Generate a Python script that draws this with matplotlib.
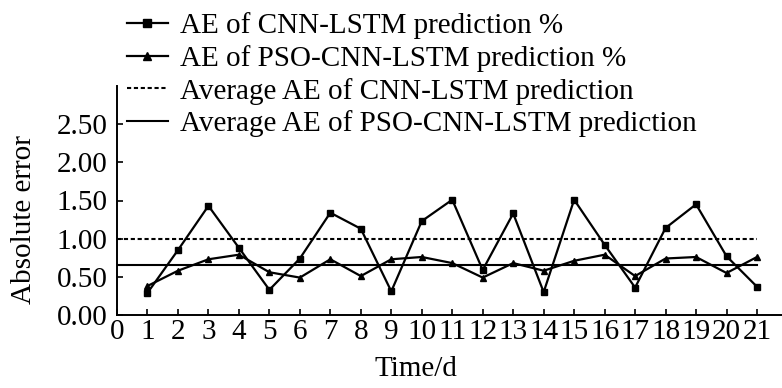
import numpy as np
import matplotlib.pyplot as plt

plt.rcParams['font.family'] = ['Liberation Serif', 'DejaVu Serif']

days = np.arange(1, 22)
ae_cnn = [0.29, 0.85, 1.43, 0.88, 0.33, 0.74, 1.34, 1.13, 0.31, 1.23, 1.51,
          0.59, 1.33, 0.30, 1.51, 0.92, 0.36, 1.14, 1.45, 0.77, 0.37]
ae_pso = [0.38, 0.58, 0.73, 0.79, 0.56, 0.49, 0.73, 0.51, 0.73, 0.76, 0.68,
          0.49, 0.68, 0.58, 0.71, 0.79, 0.51, 0.74, 0.76, 0.55, 0.76]
avg_cnn = 1.00
avg_pso = 0.66

labels = ['AE of CNN-LSTM prediction %',
          'AE of PSO-CNN-LSTM prediction %',
          'Average AE of CNN-LSTM prediction',
          'Average AE of PSO-CNN-LSTM prediction']

fs = 21

fig = plt.figure(figsize=(7.82, 3.88), dpi=100)
ax = fig.add_axes([117/782, 73/388, 665/782, 229/388])

ax.plot(days, ae_cnn, 'k-', marker='s', markersize=4.5, lw=1.6, label=labels[0])
ax.plot(days, ae_pso, 'k-', marker='^', markersize=4.5, lw=1.6, label=labels[1])
ax.plot([0, 21], [avg_cnn, avg_cnn], 'k', ls=(0, (2, 1.3)), lw=1.5, label=labels[2])
ax.plot([0, 21], [avg_pso, avg_pso], 'k-', lw=1.5, label=labels[3])

ax.set_xlim(0, 21.82)
ax.set_ylim(0, 3.0)
ax.set_xticks(range(0, 22))
ax.set_yticks([0, 0.5, 1.0, 1.5, 2.0, 2.5])
ax.set_yticklabels(['%.2f' % v for v in [0, 0.5, 1.0, 1.5, 2.0, 2.5]])
ax.tick_params(direction='in', length=4, width=1.2, labelsize=fs)
ax.tick_params(axis='x', pad=3)
ax.tick_params(axis='y', pad=7)
ax.spines['top'].set_visible(False)
ax.spines['right'].set_visible(False)
for s in ['left', 'bottom']:
    ax.spines[s].set_linewidth(1.4)

ax.set_xlabel('Time/d', fontsize=fs)
ax.set_ylabel('Absolute error', fontsize=fs)
ax.xaxis.set_label_coords(0.45, -0.18)
ax.yaxis.set_label_coords(-0.12, 0.415)

fig.legend(loc='upper left', bbox_to_anchor=(127/782, 1 - 12/388), frameon=False,
           fontsize=fs, handlelength=1.4, handletextpad=0.4, labelspacing=0.2,
           markerscale=1.4, borderpad=0, borderaxespad=0)

fig.savefig('out.png', dpi=100)
